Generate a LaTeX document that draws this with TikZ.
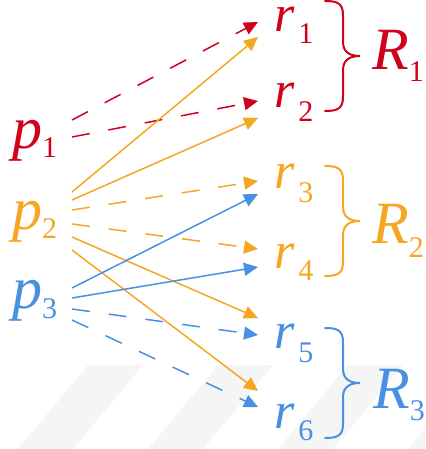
\documentclass[tikz,border=0pt]{standalone}
\usepackage{fontspec}
\setmainfont{Liberation Serif}
\usetikzlibrary{arrows.meta}
\definecolor{cred}{HTML}{D0021B}
\definecolor{corange}{HTML}{F5A623}
\definecolor{cblue}{HTML}{4A90E2}
\newcommand{\lsub}[3]{\raisebox{-#1pt}{\fontsize{#2}{#2}\selectfont\upshape #3}}
\tikzset{
  plab/.style={inner sep=0pt, anchor=base west, font=\fontsize{60}{60}\selectfont\itshape},
  rlab/.style={inner sep=0pt, anchor=base west, font=\fontsize{52}{52}\selectfont\itshape},
  biglab/.style={inner sep=0pt, anchor=base west, font=\fontsize{60}{60}\selectfont\itshape},
  conn/.style={line width=1.5pt, -{Triangle[length=14pt,width=13pt]}},
  dconn/.style={conn, dash pattern=on 18pt off 19pt},
  rbrace/.pic={\draw[line width=2pt, line cap=round] (0,0) .. controls (12,0) and (18,2) .. (18,14) -- (18,41) .. controls (18,52) and (26,55) .. (35,55) .. controls (26,55) and (18,58) .. (18,69) -- (18,96) .. controls (18,108) and (12,110) .. (0,110);},
  stripe/.style={fill=black!4, draw=none}
}
\begin{document}
\begin{tikzpicture}[x=1pt,y=-1pt]
\useasboundingbox (0,0) rectangle (425,449);
\begin{scope}
\clip (0,0) rectangle (425,449);
\foreach \k in {0,1,2,3} {
  \fill[stripe] ({88+130*\k},365) -- ({143+130*\k},365) -- ({73+130*\k},449) -- ({18+130*\k},449) -- cycle;
}
\end{scope}
% labels
\node[plab, text=cred] (p1) at (12,149) {p\lsub{9}{30}{1}};
\node[plab, text=corange] (p2) at (12,229) {p\lsub{9}{30}{2}};
\node[plab, text=cblue] (p3) at (12,308) {p\lsub{10}{30}{3}};
\node[rlab, text=cred] (r1) at (274,32) {r\hspace{4pt}\lsub{12}{30}{1}};
\node[rlab, text=cred] (r2) at (274,108) {r\hspace{4pt}\lsub{14}{30}{2}};
\node[rlab, text=corange] (r3) at (274,188) {r\hspace{4pt}\lsub{14}{30}{3}};
\node[rlab, text=corange] (r4) at (274,268) {r\hspace{4pt}\lsub{12}{30}{4}};
\node[rlab, text=cblue] (r5) at (274,348) {r\hspace{4pt}\lsub{14}{30}{5}};
\node[rlab, text=cblue] (r6) at (274,428) {r\hspace{4pt}\lsub{12}{30}{6}};
\node[biglab, text=cred] (R1) at (372,70) {R\lsub{12}{30}{1}};
\node[biglab, text=corange] (R2) at (372,243) {R\lsub{14}{30}{2}};
\node[biglab, text=cblue] (R3) at (373,408) {R\lsub{12}{30}{3}};
% braces
\pic[cred] at (325,1) {rbrace};
\pic[corange] at (325,166) {rbrace};
\pic[cblue] at (325,328) {rbrace};
% connectors from p1
\draw[dconn, cred] ([shift={(60,-29)}]p1.base west) -- ([shift={(-16,-10)}]r1.base west);
\draw[dconn, cred] ([shift={(60,-12)}]p1.base west) -- ([shift={(-16,-7)}]r2.base west);
% from p2
\draw[conn, corange] ([shift={(60,-37)}]p2.base west) -- ([shift={(-16,5)}]r1.base west);
\draw[conn, corange] ([shift={(60,-29)}]p2.base west) -- ([shift={(-16,10)}]r2.base west);
\draw[dconn, corange] ([shift={(60,-19)}]p2.base west) -- ([shift={(-16,-7)}]r3.base west);
\draw[dconn, corange] ([shift={(60,-5)}]p2.base west) -- ([shift={(-16,-19)}]r4.base west);
\draw[conn, corange] ([shift={(60,8)}]p2.base west) -- ([shift={(-16,-30)}]r5.base west);
\draw[conn, corange] ([shift={(60,21)}]p2.base west) -- ([shift={(-16,-37)}]r6.base west);
% from p3
\draw[conn, cblue] ([shift={(60,-20)}]p3.base west) -- ([shift={(-16,6)}]r3.base west);
\draw[conn, cblue] ([shift={(60,-10)}]p3.base west) -- ([shift={(-16,-1)}]r4.base west);
\draw[dconn, cblue] ([shift={(60,1)}]p3.base west) -- ([shift={(-16,-13)}]r5.base west);
\draw[dconn, cblue] ([shift={(60,12)}]p3.base west) -- ([shift={(-16,-21)}]r6.base west);
\end{tikzpicture}
\end{document}
